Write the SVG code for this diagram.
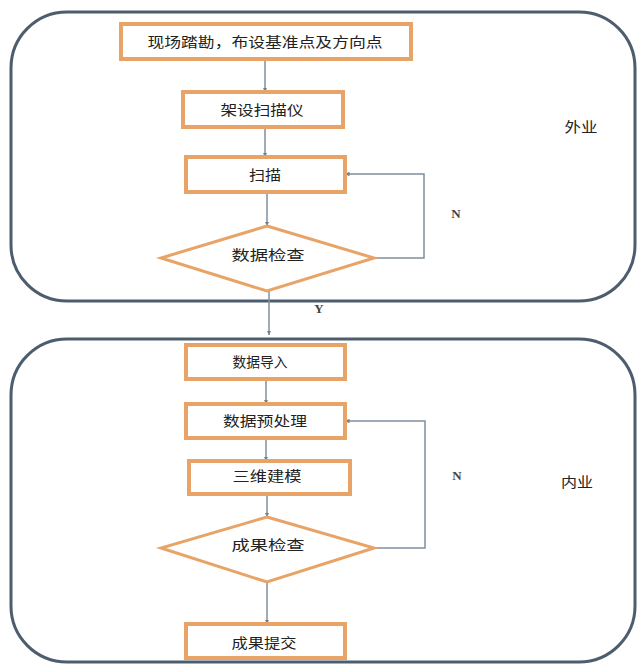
<svg xmlns="http://www.w3.org/2000/svg" width="637" height="664" viewBox="0 0 637 664">
<style>
.frame{fill:none;stroke:#4d5d6e;stroke-width:3}
.box{fill:#fff;stroke:#e8a466;stroke-width:4}
.dia{fill:#fff;stroke:#e8a466;stroke-width:3}
.conn{fill:none;stroke:#7f909e;stroke-width:1.5}
.t{font-family:"Liberation Sans","Noto Sans CJK SC",sans-serif;font-size:14px;fill:#222;text-anchor:middle;dominant-baseline:central}
.s{font-family:"Liberation Serif","Noto Sans CJK SC",serif;font-size:13px;font-weight:bold;fill:#444;text-anchor:middle;dominant-baseline:central}
</style>
<defs>
<marker id="ah" viewBox="0 0 6 6" refX="6" refY="3" markerWidth="3" markerHeight="3" orient="auto" markerUnits="strokeWidth">
<path d="M0,0 L6,3 L0,6 z" fill="#6f808e"/>
</marker>
</defs>
<rect width="637" height="664" fill="#fff"/>
<g id="frame-outdoor"><rect class="frame" x="11" y="12" width="624" height="289" rx="56" ry="56"/><text class="t" x="581" y="127" textLength="33" lengthAdjust="spacingAndGlyphs">外业</text></g>
<g id="frame-indoor"><rect class="frame" x="11" y="339" width="624" height="323" rx="56" ry="56"/><text class="t" x="577" y="482" textLength="32" lengthAdjust="spacingAndGlyphs">内业</text></g>
<g id="connectors">
<line class="conn" x1="265" y1="59" x2="265" y2="92" marker-end="url(#ah)"/>
<line class="conn" x1="265" y1="127" x2="265" y2="157" marker-end="url(#ah)"/>
<line class="conn" x1="267" y1="192" x2="267" y2="226" marker-end="url(#ah)"/>
<polyline class="conn" points="374,258 424,258 424,174 345,174" marker-end="url(#ah)"/>
<line class="conn" x1="269" y1="291" x2="269" y2="335" marker-end="url(#ah)"/>
<line class="conn" x1="266" y1="379" x2="266" y2="404" marker-end="url(#ah)"/>
<line class="conn" x1="266" y1="438" x2="266" y2="461" marker-end="url(#ah)"/>
<line class="conn" x1="267" y1="494" x2="267" y2="517" marker-end="url(#ah)"/>
<polyline class="conn" points="374,548 425,548 425,421 345,421" marker-end="url(#ah)"/>
<line class="conn" x1="267" y1="582" x2="267" y2="624" marker-end="url(#ah)"/>
<text class="s" x="456" y="213">N</text>
<text class="s" x="319" y="308">Y</text>
<text class="s" x="457" y="475">N</text>
</g>
<g id="n1"><rect class="box" x="121" y="24" width="290" height="35"/><text class="t" x="265" y="42" textLength="235" lengthAdjust="spacingAndGlyphs">现场踏勘，布设基准点及方向点</text></g>
<g id="n2"><rect class="box" x="183" y="92" width="160" height="35"/><text class="t" x="262" y="110" textLength="83" lengthAdjust="spacingAndGlyphs">架设扫描仪</text></g>
<g id="n3"><rect class="box" x="186" y="157" width="159" height="35"/><text class="t" x="265" y="175" textLength="32" lengthAdjust="spacingAndGlyphs">扫描</text></g>
<g id="n4"><polygon class="dia" points="267,226 374,258 267,291 161,258"/><text class="t" x="268" y="255" textLength="73" lengthAdjust="spacingAndGlyphs">数据检查</text></g>
<g id="n5"><rect class="box" x="186" y="345" width="159" height="34"/><text class="t" x="260" y="362" textLength="55" lengthAdjust="spacingAndGlyphs">数据导入</text></g>
<g id="n6"><rect class="box" x="186" y="404" width="159" height="34"/><text class="t" x="265" y="421" textLength="84" lengthAdjust="spacingAndGlyphs">数据预处理</text></g>
<g id="n7"><rect class="box" x="189" y="461" width="161" height="33"/><text class="t" x="267" y="476" textLength="69" lengthAdjust="spacingAndGlyphs">三维建模</text></g>
<g id="n8"><polygon class="dia" points="267,517 374,548 267,582 161,548"/><text class="t" x="268" y="545" textLength="73" lengthAdjust="spacingAndGlyphs">成果检查</text></g>
<g id="n9"><rect class="box" x="186" y="624" width="159" height="34"/><text class="t" x="264" y="643" textLength="65" lengthAdjust="spacingAndGlyphs">成果提交</text></g>
</svg>
